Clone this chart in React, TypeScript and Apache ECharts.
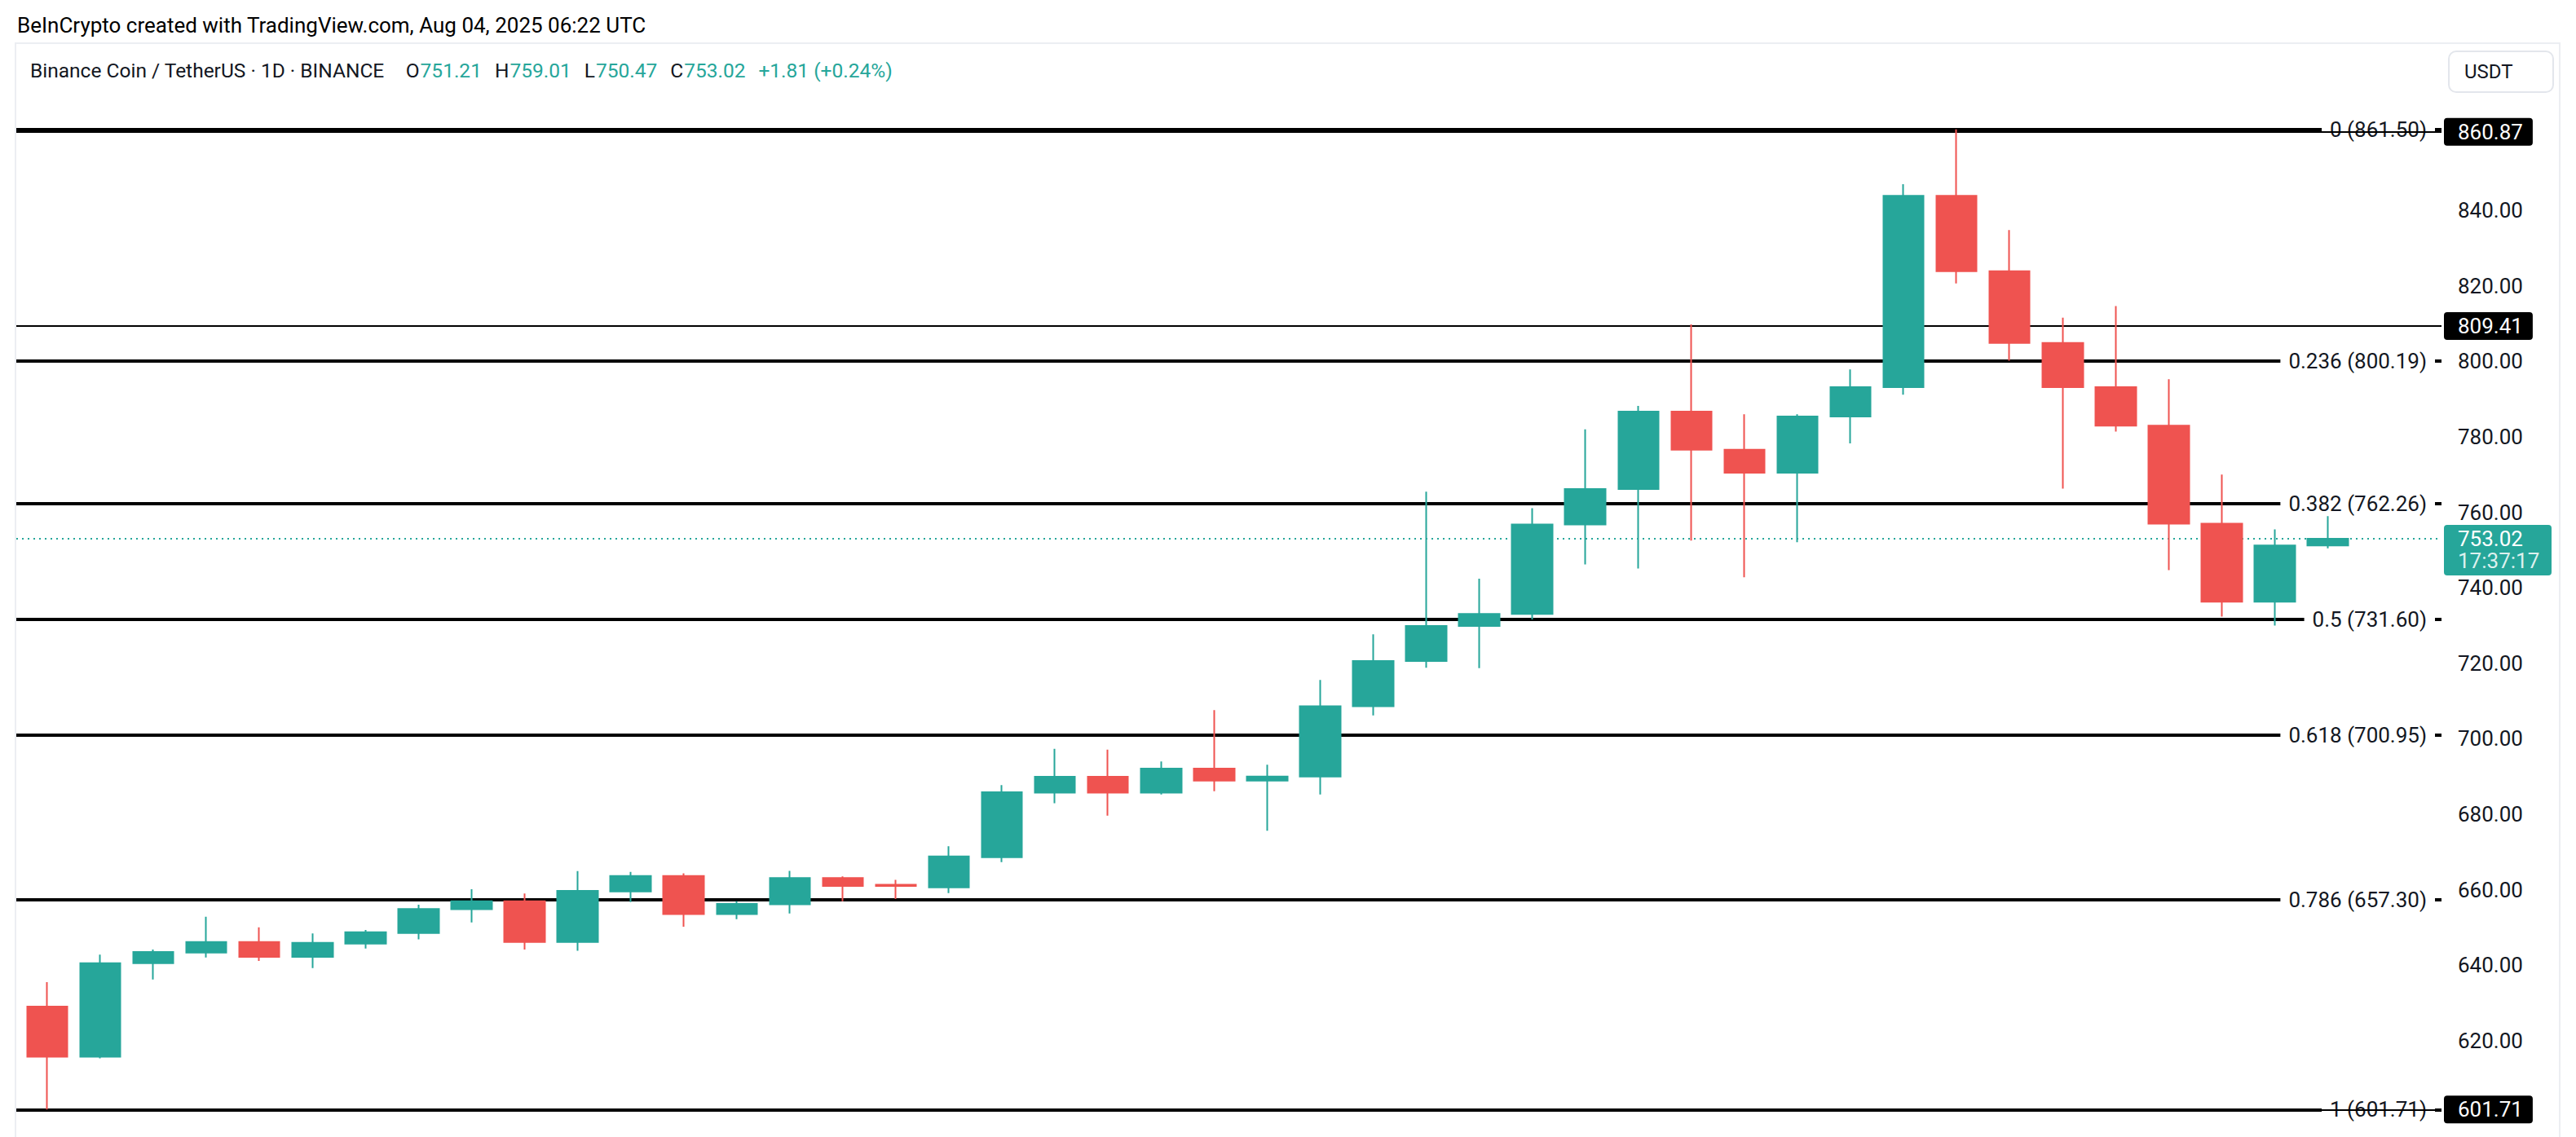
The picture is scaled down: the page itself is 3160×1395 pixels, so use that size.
import React, { useEffect, useRef } from 'react';
import * as echarts from 'echarts';

// ---- data ----
const opens = [629.0, 615.7, 640.5, 643.3, 646.1, 642.2, 645.7, 648.5, 654.8, 656.9, 646.1, 659.5, 663.6, 653.5, 656.1, 663.1, 661.3, 660.6, 668.6, 685.7, 689.9, 685.7, 692.1, 688.9, 690.0, 708.6, 720.6, 729.9, 733.1, 756.8, 766.2, 786.7, 776.6, 770.5, 785.4, 793.2, 843.9, 823.9, 804.9, 793.2, 783.0, 757.0, 736.3, 751.21];
const closes = [615.7, 640.5, 643.5, 646.1, 642.2, 645.9, 648.7, 654.9, 656.9, 646.1, 659.7, 663.6, 653.5, 656.2, 663.1, 661.0, 661.0, 668.8, 685.8, 689.9, 685.7, 692.1, 688.9, 690.0, 708.6, 720.6, 729.9, 733.1, 756.8, 766.2, 786.7, 776.6, 770.5, 785.4, 793.2, 843.9, 823.9, 804.9, 793.2, 783.0, 757.0, 736.3, 751.21, 753.02];
const lows = [601.71, 615.3, 636.2, 642.0, 641.1, 639.2, 644.4, 646.8, 651.3, 644.1, 643.8, 656.7, 650.2, 652.2, 653.7, 656.9, 657.5, 659.1, 667.3, 682.9, 679.6, 685.2, 686.1, 675.6, 685.2, 706.2, 718.8, 718.7, 731.6, 746.2, 745.1, 752.5, 742.8, 752.1, 778.3, 791.2, 820.7, 800.2, 766.3, 781.4, 744.7, 732.4, 730.0, 750.47];
const highs = [635.5, 642.8, 644.1, 652.8, 650.0, 648.4, 649.3, 656.0, 660.1, 659.0, 664.9, 664.7, 664.3, 656.9, 665.0, 663.5, 662.6, 671.5, 687.7, 697.3, 697.1, 694.0, 707.6, 693.1, 715.6, 727.7, 765.5, 742.4, 761.1, 782.0, 788.2, 809.8, 786.0, 786.0, 797.9, 847.0, 861.5, 834.8, 811.6, 814.7, 795.3, 770.0, 755.5, 759.01];

const fibRatios = ['0', '0.236', '0.382', '0.5', '0.618', '0.786', '1'];
const fibPrices = [861.5, 800.19, 762.26, 731.6, 700.95, 657.3, 601.71];
const horizontalLevels = [860.87, 809.41, 601.71];
const priceTicks = [620, 640, 660, 680, 700, 720, 740, 760, 780, 800, 820, 840];
const countdown = '17:37:17';
const headerText = 'BeInCrypto created with TradingView.com, Aug 04, 2025 06:22 UTC';
const symbolText = 'Binance Coin / TetherUS · 1D · BINANCE';
const quoteCurrency = 'USDT';

const UP = '#26a69a';
const DOWN = '#ef5350';
const TXT = '#131722';
const FONT = 'Roboto, "Noto Sans", sans-serif';

const X_MIN = -0.584;
const X_MAX = 45.143;
const Y_MIN = 594.44;
const Y_MAX = 884.35;

export default function App() {
  const ref = useRef<HTMLDivElement>(null);

  useEffect(() => {
    document.body.style.margin = '0';
    const el = ref.current!;
    const chart = echarts.init(el, null, { renderer: 'svg' });

    const n = closes.length;
    const lastO = opens[n - 1];
    const lastH = highs[n - 1];
    const lastL = lows[n - 1];
    const lastC = closes[n - 1];
    const prevC = closes[n - 2];
    const chg = lastC - prevC;
    const pct = (chg / prevC) * 100;
    const sign = chg >= 0 ? '+' : '';

    const candleData = opens.map((o, i) => [i, o, closes[i], lows[i], highs[i]]);

    const LF = 24.5;
    const seg = (fs: number, extra: any = {}) => ({ fontSize: fs, fontFamily: FONT, color: TXT, ...extra });

    const option: any = {
      animation: false,
      backgroundColor: '#ffffff',
      title: [
        {
          text: headerText,
          left: 21,
          top: 18,
          padding: 0,
          textStyle: { fontSize: 26, fontWeight: 'normal', color: '#000', fontFamily: FONT },
        },
        {
          text:
            `{n|${symbolText}}{k1|O}{v|${lastO.toFixed(2)}}{k|H}{v|${lastH.toFixed(2)}}` +
            `{k|L}{v|${lastL.toFixed(2)}}{k|C}{v|${lastC.toFixed(2)}}` +
            `{g|${sign}${chg.toFixed(2)} (${sign}${pct.toFixed(2)}%)}`,
          left: 37,
          top: 74,
          padding: 0,
          textStyle: {
            fontSize: LF,
            fontWeight: 'normal',
            fontFamily: FONT,
            color: TXT,
            rich: {
              n: seg(LF),
              k1: seg(LF, { padding: [0, 0, 0, 26] }),
              k: seg(LF, { padding: [0, 0, 0, 16] }),
              v: seg(LF, { color: UP, padding: [0, 0, 0, 1] }),
              g: seg(LF, { color: UP, padding: [0, 0, 0, 16] }),
            },
          },
        },
      ],
      grid: { left: 20, right: 165, top: 53, bottom: 0 },
      xAxis: {
        type: 'value',
        min: X_MIN,
        max: X_MAX,
        show: false,
        splitLine: { show: false },
      },
      yAxis: {
        type: 'value',
        position: 'right',
        min: Y_MIN,
        max: Y_MAX,
        splitLine: { show: false },
        axisLine: { show: false },
        axisTick: { show: false },
        axisLabel: { show: false },
      },
      series: [
        {
          type: 'candlestick',
          z: 3,
          barWidth: 50,
          data: candleData,
          itemStyle: {
            color: UP,
            color0: DOWN,
            borderColor: UP,
            borderColor0: DOWN,
            borderWidth: 2,
          },
          emphasis: { disabled: true },
          markLine: {
            z: 1,
            silent: true,
            symbol: ['none', 'none'],
            animation: false,
            lineStyle: { color: '#000', width: 4, type: 'solid' },
            emphasis: { disabled: true },
            label: {
              show: true,
              position: 'insideEnd',
              distance: 8,
              padding: [2, 10],
              backgroundColor: '#ffffff',
              color: TXT,
              fontSize: 26,
              fontFamily: FONT,
            },
            data: fibPrices.map((p, i) => ({
              yAxis: p,
              label: { formatter: `${fibRatios[i]} (${p.toFixed(2)})` },
            })),
          },
        },
        {
          type: 'line',
          z: 2,
          data: [],
          markLine: {
            z: 2,
            silent: true,
            symbol: ['none', 'none'],
            animation: false,
            lineStyle: { color: '#000', width: 2, type: 'solid' },
            emphasis: { disabled: true },
            label: {
              show: true,
              position: 'end',
              distance: 3,
              backgroundColor: '#000',
              color: '#fff',
              padding: [4, 12, 4, 17],
              borderRadius: 4,
              fontSize: 26,
              fontFamily: FONT,
              formatter: (p: any) => Number(p.value).toFixed(2),
            },
            data: [
              ...horizontalLevels.map((v) => ({ yAxis: v })),
              {
                yAxis: lastC,
                lineStyle: { color: UP, width: 2, type: [2, 5] },
                label: { show: false },
              },
            ],
          },
        },
      ],
    };

    chart.setOption(option);

    const yPx = chart.convertToPixel({ yAxisIndex: 0 }, lastC) as number;
    const xRight = chart.convertToPixel({ xAxisIndex: 0 }, X_MAX) as number;

    const tickTexts = priceTicks.map((v) => ({
      type: 'text',
      silent: true,
      z: 10,
      x: xRight + 20,
      y: chart.convertToPixel({ yAxisIndex: 0 }, v) as number,
      style: {
        text: v.toFixed(2),
        fontSize: 26,
        fontFamily: FONT,
        fill: TXT,
        verticalAlign: 'middle',
        align: 'left',
      },
    }));

    chart.setOption({
      graphic: [
        {
          type: 'rect',
          z: -10,
          silent: true,
          shape: { x: 19, y: 53, width: 3121, height: 1380 },
          style: { fill: 'none', stroke: '#eceef2', lineWidth: 2 },
        },
        {
          type: 'rect',
          silent: true,
          shape: { x: 3004, y: 63, width: 128, height: 50, r: 9 },
          style: { fill: '#fff', stroke: '#e3e6ec', lineWidth: 2 },
        },
        {
          type: 'text',
          silent: true,
          x: 3023,
          y: 88,
          style: {
            text: quoteCurrency,
            fontSize: 24,
            fontFamily: FONT,
            fill: TXT,
            verticalAlign: 'middle',
            align: 'left',
          },
        },
        ...tickTexts,
        {
          type: 'rect',
          silent: true,
          z: 50,
          shape: { x: xRight + 3, y: yPx - 17, width: 132, height: 62, r: 4 },
          style: { fill: UP },
        },
        {
          type: 'text',
          silent: true,
          z: 51,
          x: xRight + 20,
          y: yPx,
          style: {
            text: lastC.toFixed(2),
            fontSize: 26,
            fontFamily: FONT,
            fill: '#fff',
            verticalAlign: 'middle',
            align: 'left',
          },
        },
        {
          type: 'text',
          silent: true,
          z: 51,
          x: xRight + 20,
          y: yPx + 27,
          style: {
            text: countdown,
            fontSize: 26,
            fontFamily: FONT,
            fill: 'rgba(255,255,255,0.85)',
            verticalAlign: 'middle',
            align: 'left',
          },
        },
      ],
    });

    return () => {
      chart.dispose();
    };
  }, []);

  return (
    <div
      ref={ref}
      style={{ position: 'absolute', left: 0, top: 0, width: 3160, height: 1395, background: '#fff' }}
    />
  );
}
